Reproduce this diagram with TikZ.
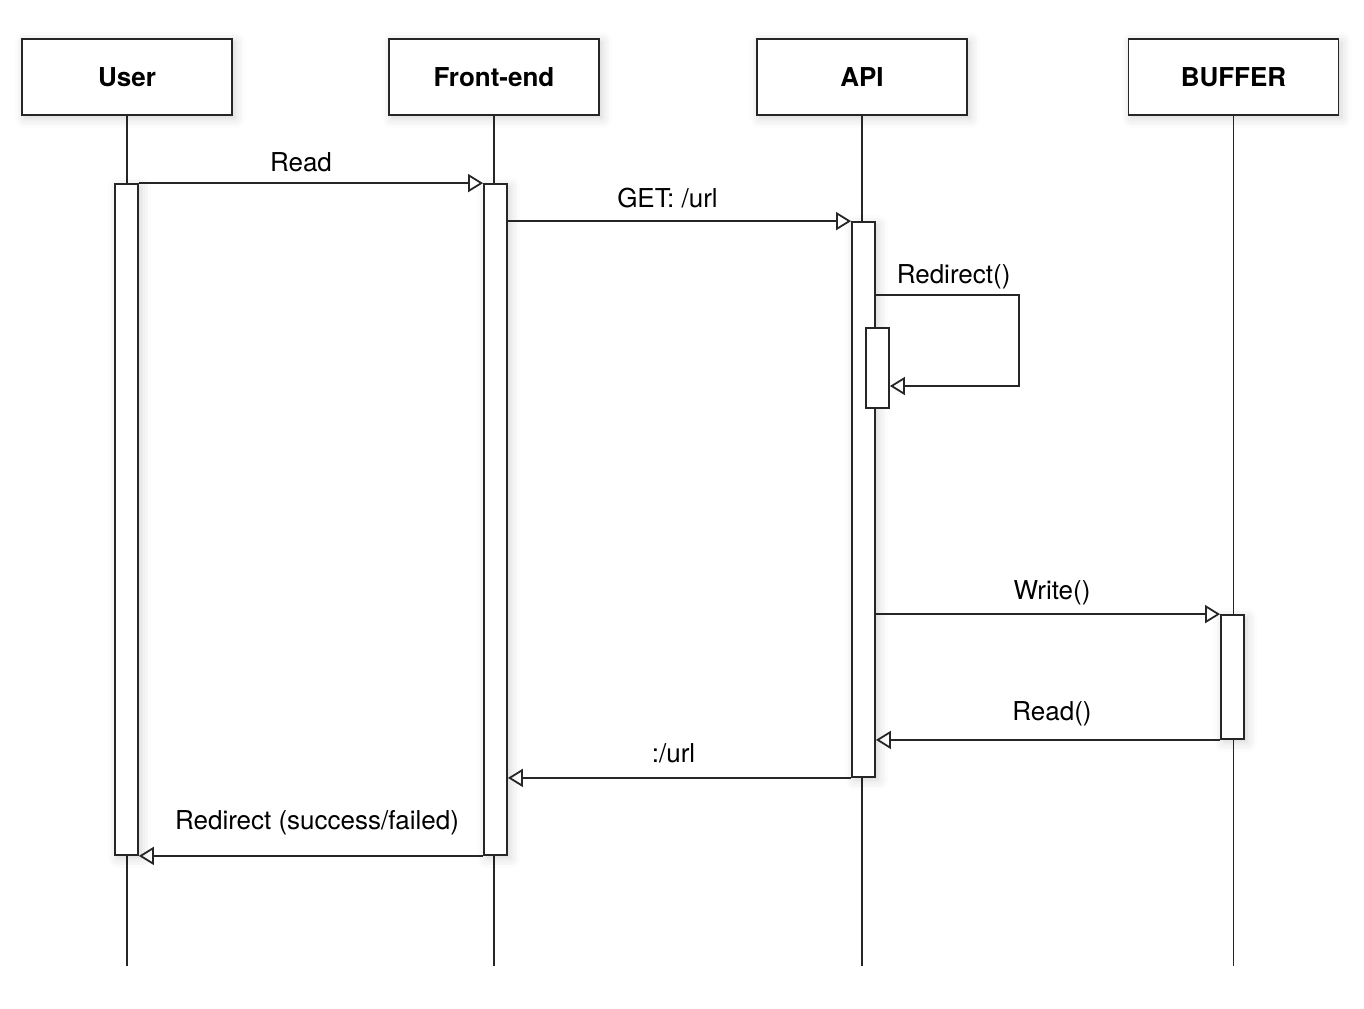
\documentclass[tikz,border=0pt]{standalone}
\usepackage{fontspec}
\setmainfont{TeX Gyre Heros}
\usetikzlibrary{arrows.meta}
\usetikzlibrary{shadows.blur}
\tikzset{
  softshadow/.style={blur shadow={shadow xshift=1.5pt, shadow yshift=-1.5pt, shadow blur radius=5pt, shadow opacity=18}},
  head/.style={draw, fill=white, minimum width=105pt, minimum height=38pt, font=\fontsize{13}{15}\selectfont\bfseries, softshadow},
  act/.style={draw, fill=white, minimum width=11.5pt, inner sep=0pt, softshadow},
  msg/.style={-{Triangle[open, length=7.5pt, width=9pt]}},
  lbl/.style={anchor=base, inner sep=0pt}
}

\begin{document}
\begin{tikzpicture}[x=0.5pt, y=-0.5pt, line width=0.9pt, draw=black!85, font=\fontsize{13}{15}\selectfont]
    \path[use as bounding box] (0,0) rectangle (1364,1008);

    % participants
    \node[head] (user)   at (127,77)    {User};
    \node[head] (front)  at (494,77)    {Front-end};
    \node[head] (api)    at (862,77)    {API};
    \node[head] (buffer) at (1233.5,77) {BUFFER};

    \coordinate (bottom) at (0,966);
    \draw (user.south)   -- (user.south |- bottom);
    \draw (front.south)  -- (front.south |- bottom);
    \draw (api.south)    -- (api.south |- bottom);
    \draw (buffer.south) -- (buffer.south |- bottom);

    % activations
    \node[act, minimum height=335.5pt] (uact) at (126.5,519.5)  {};
    \node[act, minimum height=335.5pt] (fact) at (495.5,519.5)  {};
    \node[act, minimum height=277.5pt] (aact) at (863.5,499.5)  {};
    \node[draw, fill=white, minimum width=11.5pt, minimum height=40pt, inner sep=0pt] (sub) at (877.5,368) {};
    \node[act, minimum height=62pt]    (bact) at (1232.5,677)   {};

    % messages
    \draw[msg] (uact.north east) -- node[lbl, xshift=-5pt, yshift=6pt] {Read} (fact.north west);
    \draw[msg] (fact.east |- aact.north) -- node[lbl, xshift=-6pt, yshift=7pt] {GET: /url} (aact.north west);

    \coordinate (selfTop) at (1019,295);
    \coordinate (selfEnd) at (1019,386);
    \draw[msg] (aact.east |- selfTop) -- (selfTop) -- (selfEnd) -- (sub.east |- selfEnd);
    \node[lbl, anchor=base west] at ([xshift=10pt, yshift=6pt]aact.east |- selfTop) {Redirect()};

    \draw[msg] (aact.east |- bact.north) -- node[lbl, xshift=2pt, yshift=7.5pt] {Write()} (bact.north west);
    \draw[msg] (bact.south west) -- node[lbl, xshift=2pt, yshift=9.5pt] {Read()} (aact.east |- bact.south);
    \draw[msg] (aact.south west) -- node[lbl, xshift=-3pt, yshift=7.5pt] {:/url} (fact.east |- aact.south);
    \draw[msg] (fact.south west) -- node[lbl, xshift=3pt, yshift=13pt] {Redirect (success/failed)} (uact.south east);
\end{tikzpicture}
\end{document}
